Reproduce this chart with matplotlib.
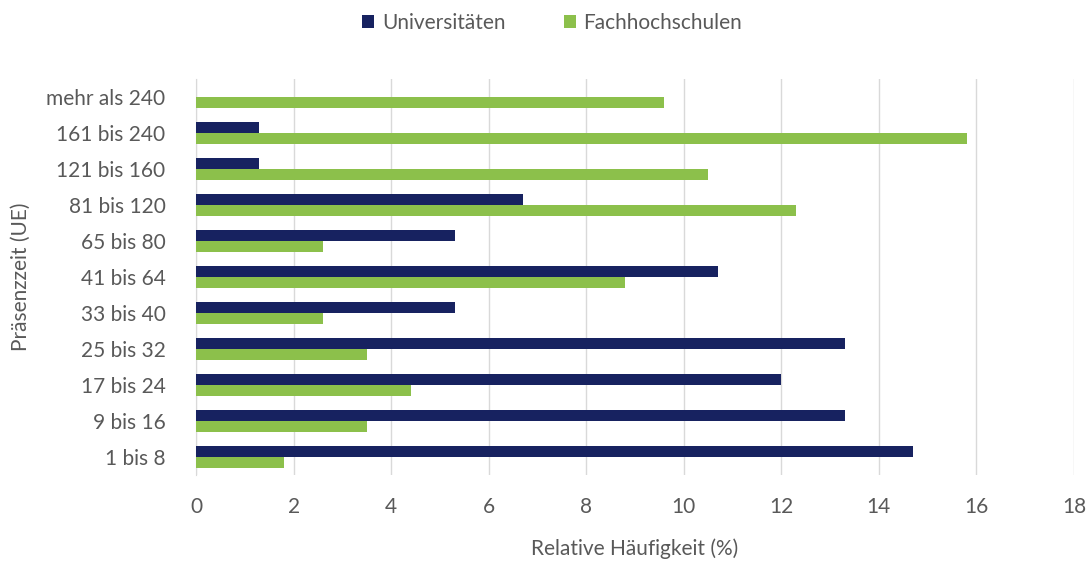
import matplotlib
matplotlib.use('Agg')
import matplotlib.pyplot as plt
import numpy as np

categories = ['1 bis 8', '9 bis 16', '17 bis 24', '25 bis 32', '33 bis 40', '41 bis 64',
              '65 bis 80', '81 bis 120', '121 bis 160', '161 bis 240', 'mehr als 240']
universitaeten = [14.7, 13.3, 12.0, 13.3, 5.3, 10.7, 5.3, 6.7, 1.3, 1.3, 0.0]
fachhochschulen = [1.8, 3.5, 4.4, 3.5, 2.6, 8.8, 2.6, 12.3, 10.5, 15.8, 9.6]
xticks = [0, 2, 4, 6, 8, 10, 12, 14, 16, 18]

navy = '#172260'
green = '#8CC04B'
text_col = '#595959'

plt.rcParams['font.family'] = ['Lato', 'DejaVu Sans']

fig = plt.figure(figsize=(10.91, 5.61), dpi=100)
ax = fig.add_axes([0.1797, 0.153, 0.8047, 0.706])

y = np.arange(len(categories))
h = 0.3
ax.barh(y + h / 2, universitaeten, height=h, color=navy, label='Universitäten', zorder=3)
ax.barh(y - h / 2, fachhochschulen, height=h, color=green, label='Fachhochschulen', zorder=3)

ax.set_xlim(0, 18)
ax.set_ylim(-0.5, len(categories) - 0.5)
ax.set_xticks(xticks)
ax.set_yticks(y)
ax.set_yticklabels(categories)
ax.tick_params(axis='both', length=0, labelsize=15, colors=text_col)
ax.tick_params(axis='x', pad=16)
ax.tick_params(axis='y', pad=22)

ax.grid(axis='x', color='#d9d9d9', linewidth=1, zorder=0)
for s in ['top', 'right', 'bottom']:
    ax.spines[s].set_visible(False)
ax.spines['left'].set_color('#d9d9d9')

ax.set_xlabel('Relative Häufigkeit (%)', fontsize=15, color=text_col, labelpad=15)
ax.set_ylabel('Präsenzzeit (UE)', fontsize=15, color=text_col, labelpad=11)

fig.legend(loc='upper center', bbox_to_anchor=(0.506, 1.01), ncol=2, frameon=False,
           fontsize=15, labelcolor=text_col, handlelength=0.6, handleheight=0.6,
           columnspacing=2.8, handletextpad=0.35)

plt.savefig('out.png', dpi=100)
plt.close()
